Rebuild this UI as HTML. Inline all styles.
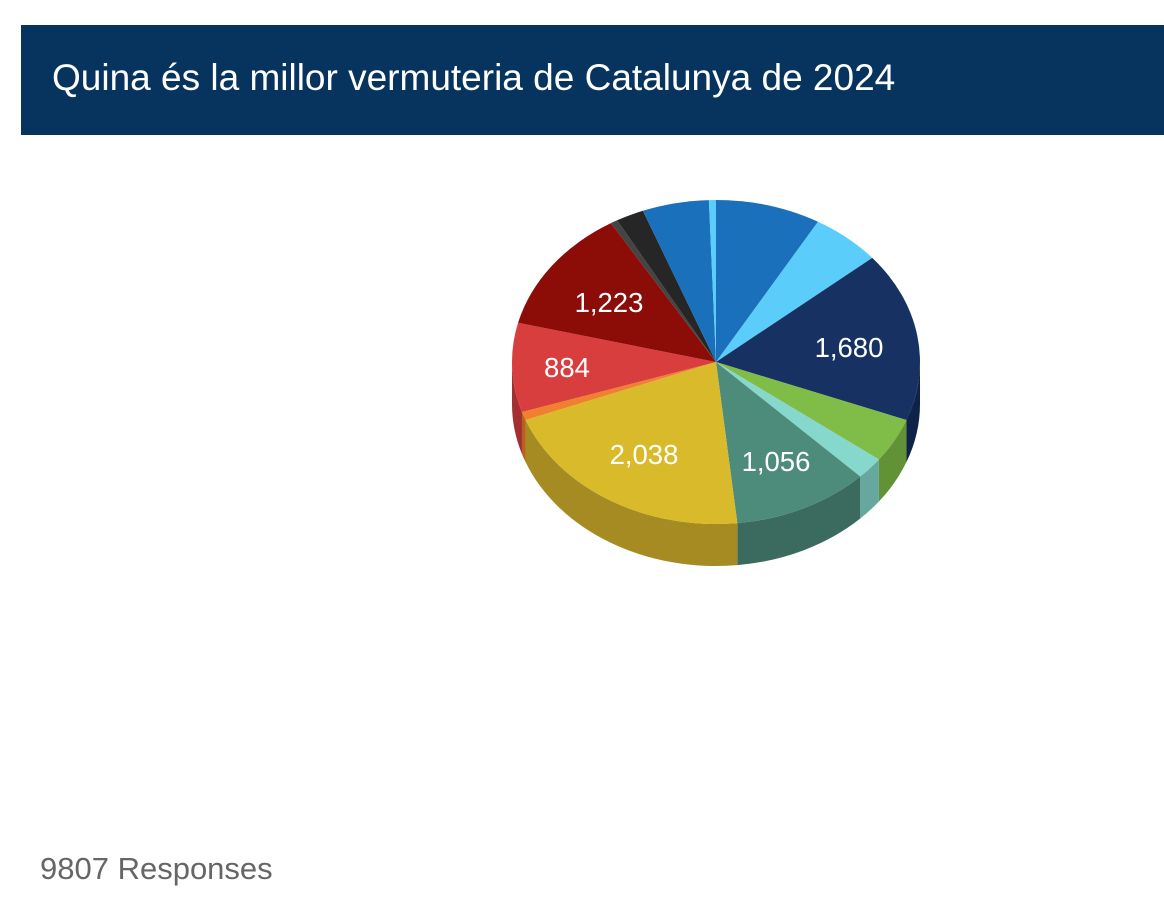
<!DOCTYPE html>
<html><head><meta charset="utf-8">
<style>
body{margin:0;background:#fff;width:1164px;height:924px;overflow:hidden;font-family:"Liberation Sans",Arial,sans-serif}
.hdr{position:absolute;left:21px;top:25px;width:1143px;height:110px;background:#07345f}
.hdr span{position:absolute;left:31px;top:32px;color:#fff;font-size:37px}
.ft{position:absolute;left:40px;top:851px;color:#666;font-size:31px}
svg{position:absolute;left:0;top:0}
</style></head><body>
<div class="hdr"><span>Quina és la millor vermuteria de Catalunya de 2024</span></div>
<svg id="s" width="1164" height="924"></svg>
<div class="ft">9807 Responses</div>
<script>
var cx=716,cy=362,rx=204,ry=162,d=42;
var sl=[[-90,-60,'#1a70bb','#125590'],[-60,-40,'#5acdfa','#45a0c4'],[-40,21,'#173262','#0f2248'],[21,37,'#80bd48','#619236'],[37,45,'#85d8cb','#66a89d'],[45,84,'#4d8c7a','#3b6b5e'],[84,159,'#d9ba2a','#a58b21'],[159,162,'#f08030','#b86020'],[162,194,'#d93e3e','#a32f30'],[194,239,'#8c0c08','#6a0806'],[239,241,'#444','#333'],[241,249,'#262626','#1a1a1a'],[249,268,'#1a70bb','#125590'],[268,270,'#5acdfa','#45a0c4']];
function P(t,o){t=t*Math.PI/180;return (cx+rx*Math.cos(t)).toFixed(2)+' '+(cy+o+ry*Math.sin(t)).toFixed(2);}
var h='';
sl.forEach(function(s){var a=Math.max(s[0],0),b=Math.min(s[1],180);
 if(b>a){h+='<path fill="'+s[3]+'" d="M'+P(a,0)+' A'+rx+' '+ry+' 0 0 1 '+P(b,0)+' L'+P(b,d)+' A'+rx+' '+ry+' 0 0 0 '+P(a,d)+' Z"/>';}});
sl.forEach(function(s){var lg=(s[1]-s[0])>180?1:0;
 h+='<path fill="'+s[2]+'" d="M'+cx+' '+cy+' L'+P(s[0],0)+' A'+rx+' '+ry+' 0 '+lg+' 1 '+P(s[1],0)+' Z"/>';});
var L=[['1,223',609,302],['884',567,367],['1,680',849,347],['2,038',644,454],['1,056',776,461]];
L.forEach(function(l){h+='<text x="'+l[1]+'" y="'+(l[2]+10)+'" fill="#fff" font-size="27.5" text-anchor="middle" font-family="Liberation Sans, Arial, sans-serif">'+l[0]+'</text>';});
document.getElementById('s').innerHTML=h;
</script>
</body></html>
